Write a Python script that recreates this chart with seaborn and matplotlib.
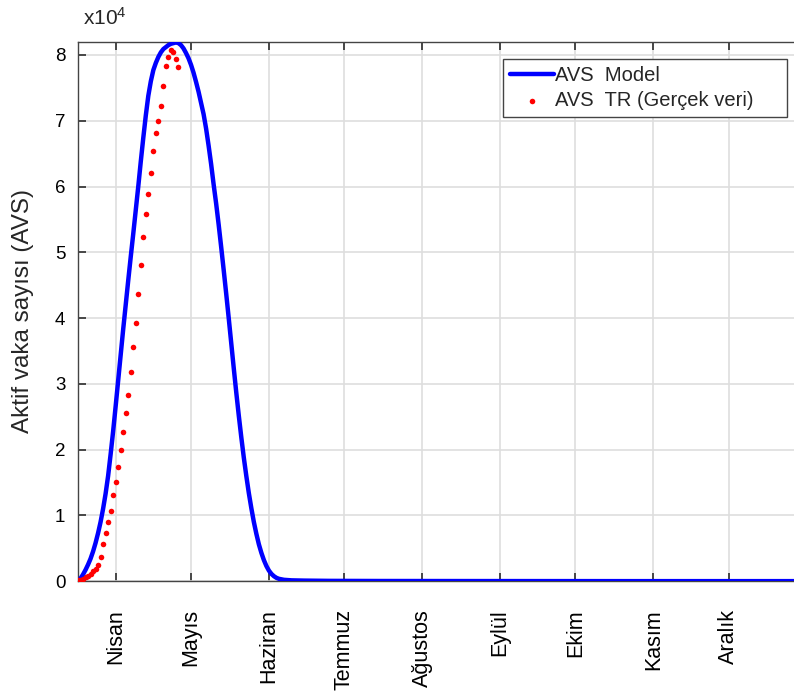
import numpy as np
import pandas as pd
import matplotlib
matplotlib.use("Agg")
import matplotlib.pyplot as plt
import seaborn as sns

# gün 0 = 17 Mart 2020
baslangic = pd.Timestamp("2020-03-17")
aylar = ["Nisan", "Mayıs", "Haziran", "Temmuz", "Ağustos", "Eylül", "Ekim", "Kasım", "Aralık"]
ay_baslari = pd.date_range("2020-04-01", periods=9, freq="MS")

# model (x10^4)
model_gun = list(range(0, 81)) + [82, 85, 90, 100, 120, 160, 220, 285]
model_avs = [0.0, 0.04, 0.10, 0.17, 0.25, 0.34, 0.45, 0.58, 0.73, 0.90,
             1.10, 1.33, 1.60, 1.93, 2.28, 2.66, 3.05, 3.44, 3.83, 4.20,
             4.57, 4.93, 5.28, 5.64, 6.00, 6.38, 6.74, 7.08, 7.38, 7.60,
             7.77, 7.88, 7.97, 8.04, 8.09, 8.12, 8.15, 8.17, 8.18, 8.19,
             8.18, 8.15, 8.10, 8.03, 7.95, 7.85, 7.73, 7.59, 7.44, 7.27,
             7.10, 6.88, 6.62, 6.34, 6.03, 5.74, 5.42, 5.08, 4.73, 4.37,
             4.00, 3.62, 3.24, 2.87, 2.52, 2.19, 1.88, 1.60, 1.34, 1.11,
             0.90, 0.72, 0.56, 0.43, 0.32, 0.23, 0.16, 0.11, 0.075, 0.05,
             0.035, 0.02, 0.012, 0.008, 0.004, 0.002, 0.001, 0.0, 0.0]

# gerçek veri (x10^4)
gercek_gun = list(range(41))
gercek_avs = [0.01, 0.02, 0.035, 0.056, 0.08, 0.11, 0.15, 0.18, 0.24, 0.36, 0.57, 0.73, 0.9,
              1.06, 1.31, 1.51, 1.74, 2.0, 2.27, 2.55, 2.83, 3.18, 3.56, 3.92, 4.36, 4.81, 5.23,
              5.58, 5.88, 6.21, 6.54, 6.81, 6.99, 7.22, 7.53, 7.83, 7.97, 8.07, 8.05, 7.94, 7.81]

df_model = pd.DataFrame({"gun": model_gun, "avs": np.array(model_avs) * 1e4})
df_tr = pd.DataFrame({"gun": gercek_gun, "avs": np.array(gercek_avs) * 1e4})

sns.set_theme(style="whitegrid")
plt.rcParams["font.family"] = ["Liberation Sans", "DejaVu Sans"]
plt.rcParams["mathtext.default"] = "regular"

fig = plt.figure(figsize=(7.94, 6.91), dpi=100)
ax = fig.add_axes([0.0982, 0.159, 0.9018, 0.7805])

sns.lineplot(data=df_model, x="gun", y="avs", color="#0000ff", linewidth=3.2,
             label="AVS  Model", ax=ax, estimator=None, sort=False, zorder=3)
sns.scatterplot(data=df_tr, x="gun", y="avs", color="#ff0000", s=16, linewidth=0,
                label="AVS  TR (Gerçek veri)", ax=ax, zorder=4)

ax.set_xlim(0, 285)
ax.set_ylim(0, 8.2e4)
ax.set_xticks((ay_baslari - baslangic).days)
ax.set_xticklabels(aylar, rotation=90, fontsize=15.5)
ax.set_yticks(np.arange(0, 9) * 1e4)
ax.set_yticklabels([str(i) for i in range(9)], fontsize=13.5)
ax.set_xlabel("")
ax.set_ylabel("Aktif vaka sayısı (AVS)", fontsize=17.5, labelpad=15)

ax.grid(True, color="#dedede", linewidth=1.2)
ax.tick_params(axis="x", direction="in", length=6, bottom=True, top=True, pad=20,
               colors="#333333", labelcolor="black")
ax.tick_params(axis="y", direction="in", length=6, left=True, right=False, pad=9,
               colors="#333333", labelcolor="black")
for side in ["left", "top", "bottom"]:
    ax.spines[side].set_color("#444444")
    ax.spines[side].set_linewidth(1.0)
ax.spines["right"].set_visible(False)

leg = ax.legend(loc="upper left", bbox_to_anchor=(0.5936, 0.0, 0.3966, 0.968), mode="expand",
                borderaxespad=0, fontsize=14.5, handlelength=2.2, handletextpad=0.05,
                labelspacing=0.3, fancybox=False, framealpha=1, edgecolor="#444444",
                borderpad=0.35)
leg.get_frame().set_linewidth(1.0)

fig.text(83 / 794, 1 - 25 / 691, "x10$^4$", fontsize=15, va="baseline", ha="left")

fig.savefig("out.png", dpi=100)
